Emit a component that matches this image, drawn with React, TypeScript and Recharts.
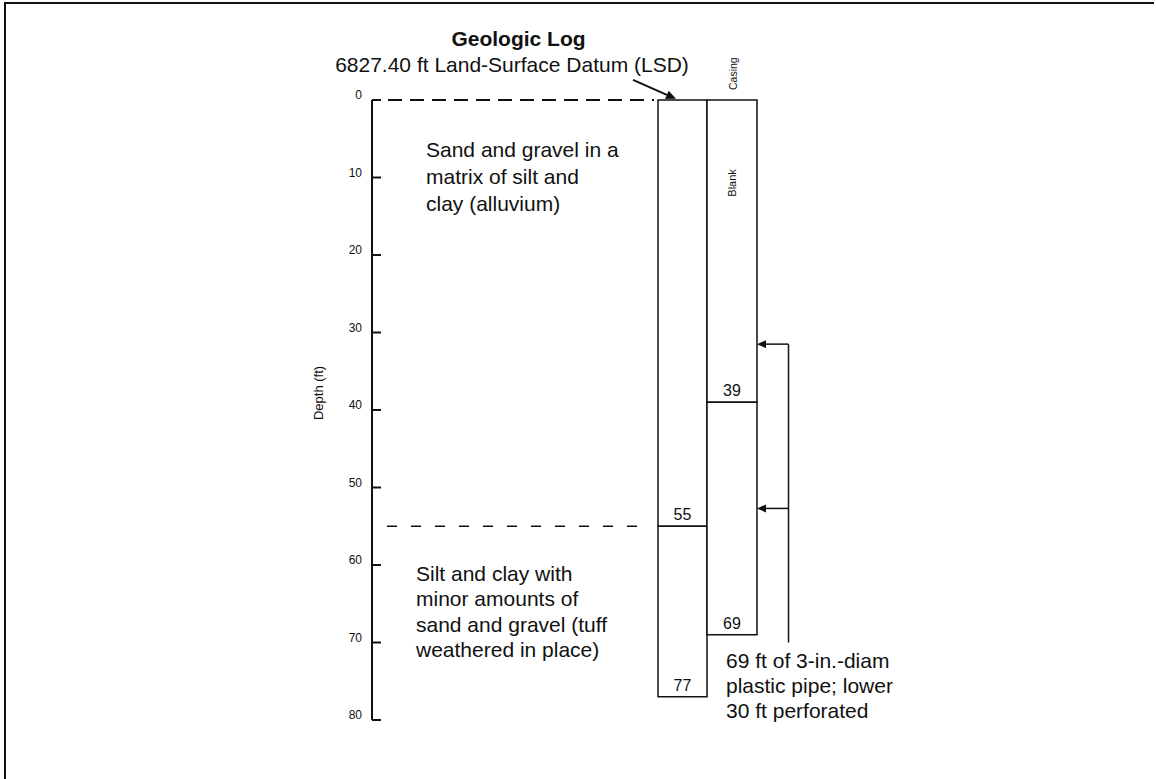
import { ComposedChart, XAxis, YAxis, Scatter, ReferenceArea, ReferenceLine, ReferenceDot } from "recharts";

// depth scale, ft below land surface
const depthTicks = [0, 10, 20, 30, 40, 50, 60, 70, 80];

// geologic log units
const lithTop = [0, 55];
const lithBottom = [55, 77];
const lithText = [
  ["Sand and gravel in a", "matrix of silt and", "clay (alluvium)"],
  ["Silt and clay with", "minor amounts of", "sand and gravel (tuff", "weathered in place)"],
];

// casing
const casingTop = [0, 39];
const casingBottom = [39, 69];
const perfArrowDepths = [31.5, 52.7];
const bracketDepths = [31.5, 70];
const pipeNote = ["69 ft of 3-in.-diam", "plastic pipe; lower", "30 ft perforated"];

const FONT = "'Liberation Sans', Arial, Helvetica, sans-serif";
const INK = "#111";

// x extents of the two columns (x axis runs 0..100)
const LOG_X = [57.2, 67];
const CASING_X = [67, 77];
const BRACKET_X = 83.3;

// boundary points, so the chart has a series to scale against
const boundaries = [
  ...lithBottom.map((d) => ({ x: (LOG_X[0] + LOG_X[1]) / 2, depth: d })),
  ...casingBottom.map((d) => ({ x: (CASING_X[0] + CASING_X[1]) / 2, depth: d })),
];

function textShape(lines: string[], size: number, lh: number, anchor = "start", bold = false) {
  return (p: any) => (
    <text
      x={p.cx}
      y={p.cy}
      fontSize={size}
      fontFamily={FONT}
      fontWeight={bold ? 700 : 400}
      fill={INK}
      textAnchor={anchor}
    >
      {lines.map((l, i) => (
        <tspan key={i} x={p.cx} dy={i === 0 ? 0 : lh}>
          {l}
        </tspan>
      ))}
    </text>
  );
}

function vertText(label: string, size: number) {
  return (p: any) => (
    <text
      x={p.cx}
      y={p.cy}
      fontSize={size}
      fontFamily={FONT}
      fill={INK}
      textAnchor="middle"
      dominantBaseline="central"
      transform={`rotate(-90 ${p.cx} ${p.cy})`}
    >
      {label}
    </text>
  );
}

function arrowShape(width: number, head = 9, half = 4) {
  return (p: any) => {
    const { x1, y1, x2, y2 } = p;
    const a = Math.atan2(y2 - y1, x2 - x1);
    const bx = x2 - head * Math.cos(a);
    const by = y2 - head * Math.sin(a);
    const nx = -Math.sin(a) * half;
    const ny = Math.cos(a) * half;
    return (
      <g>
        <line x1={x1} y1={y1} x2={bx} y2={by} stroke={INK} strokeWidth={width} />
        <polygon points={`${x2},${y2} ${bx + nx},${by + ny} ${bx - nx},${by - ny}`} fill={INK} />
      </g>
    );
  };
}

function DepthTick(p: any) {
  const { x, y, payload } = p;
  return (
    <g>
      <line x1={x} y1={y} x2={x + 9} y2={y} stroke={INK} strokeWidth={2} />
      <text x={x - 10} y={y - 1} textAnchor="end" fontSize={12} fontFamily={FONT} fill={INK}>
        {payload.value}
      </text>
    </g>
  );
}

export default function App() {
  return (
    <div style={{ position: "relative", width: 1156, height: 779, background: "#fff", overflow: "hidden" }}>
      <style>{"body{margin:0}"}</style>
      <div
        style={{
          position: "absolute",
          left: 4,
          top: 2,
          width: 1148,
          height: 790,
          borderTop: `2px solid ${INK}`,
          borderLeft: `2px solid ${INK}`,
        }}
      />
      <ComposedChart width={1156} height={779} data={boundaries} margin={{ top: 100, right: 284, bottom: 59, left: 0 }}>
        <XAxis type="number" dataKey="x" domain={[0, 100]} allowDataOverflow hide />
        <YAxis
          type="number"
          dataKey="depth"
          domain={[0, 80]}
          allowDataOverflow
          reversed
          ticks={depthTicks}
          interval={0}
          width={372}
          tickSize={0}
          tickMargin={0}
          tickLine={false}
          axisLine={{ stroke: INK, strokeWidth: 2 }}
          tick={(p: any) => <DepthTick {...p} />}
        />

        {/* land surface and lithology contact */}
        <ReferenceLine
          segment={[{ x: 3.2, y: 0 }, { x: 56.4, y: 0 }]}
          stroke={INK}
          strokeWidth={2}
          strokeDasharray="14 8"
          ifOverflow="visible"
        />
        <ReferenceLine
          segment={[{ x: 3, y: lithBottom[0] }, { x: 55, y: lithBottom[0] }]}
          stroke={INK}
          strokeWidth={1.5}
          strokeDasharray="10 14"
        />

        {/* geologic log column */}
        {lithTop.map((top, i) => (
          <ReferenceArea
            key={`lith-${i}`}
            x1={LOG_X[0]}
            x2={LOG_X[1]}
            y1={top}
            y2={lithBottom[i]}
            fill="#fff"
            fillOpacity={1}
            stroke={INK}
            strokeWidth={1.5}
            ifOverflow="visible"
            label={{ value: String(lithBottom[i]), position: "insideBottom", offset: 6, fontSize: 16, fill: INK, fontFamily: FONT }}
          />
        ))}

        {/* casing column */}
        {casingTop.map((top, i) => (
          <ReferenceArea
            key={`casing-${i}`}
            x1={CASING_X[0]}
            x2={CASING_X[1]}
            y1={top}
            y2={casingBottom[i]}
            fill="#fff"
            fillOpacity={1}
            stroke={INK}
            strokeWidth={1.5}
            ifOverflow="visible"
            label={{ value: String(casingBottom[i]), position: "insideBottom", offset: 6, fontSize: 16, fill: INK, fontFamily: FONT }}
          />
        ))}

        <Scatter dataKey="depth" data={boundaries} isAnimationActive={false} shape={() => <g />} />

        {/* perforated interval bracket */}
        <ReferenceLine
          segment={[{ x: BRACKET_X, y: bracketDepths[0] }, { x: BRACKET_X, y: bracketDepths[1] }]}
          stroke={INK}
          strokeWidth={1.5}
        />
        {perfArrowDepths.map((d, i) => (
          <ReferenceLine
            key={`perf-${i}`}
            segment={[{ x: BRACKET_X, y: d }, { x: CASING_X[1], y: d }]}
            shape={arrowShape(1.5, 9, 4)}
          />
        ))}

        {/* LSD pointer */}
        <ReferenceLine
          segment={[{ x: 52.2, y: -2.6 }, { x: 60.8, y: -0.15 }]}
          shape={arrowShape(2, 10, 4.5)}
          ifOverflow="visible"
        />

        {/* titles and notes */}
        <ReferenceDot x={29.3} y={-7} r={0} ifOverflow="visible" shape={textShape(["Geologic Log"], 21, 0, "middle", true)} />
        <ReferenceDot
          x={28}
          y={-3.6}
          r={0}
          ifOverflow="visible"
          shape={textShape(["6827.40 ft Land-Surface Datum (LSD)"], 21, 0, "middle")}
        />
        <ReferenceDot x={72.2} y={-3.4} r={0} ifOverflow="visible" shape={vertText("Casing", 10.5)} />
        <ReferenceDot x={72} y={10.7} r={0} ifOverflow="visible" shape={vertText("Blank", 11)} />
        <ReferenceDot x={-10.6} y={37.8} r={0} ifOverflow="visible" shape={vertText("Depth (ft)", 13)} />
        <ReferenceDot x={10.8} y={7.35} r={0} ifOverflow="visible" shape={textShape(lithText[0], 21, 27)} />
        <ReferenceDot x={8.8} y={62} r={0} ifOverflow="visible" shape={textShape(lithText[1], 21, 25.5)} />
        <ReferenceDot x={70.8} y={73.3} r={0} ifOverflow="visible" shape={textShape(pipeNote, 21, 25)} />
      </ComposedChart>
    </div>
  );
}
